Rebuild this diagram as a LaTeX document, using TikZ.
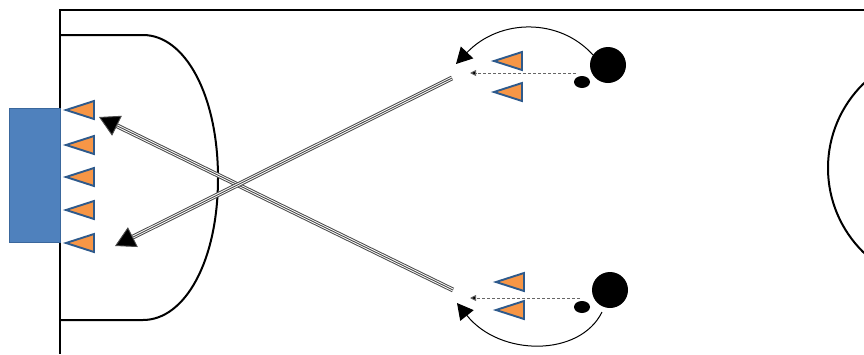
\documentclass[tikz,border=0pt]{standalone}
\usetikzlibrary{arrows.meta,shapes.geometric}
\definecolor{goalblue}{HTML}{4F81BD}
\definecolor{goaledge}{HTML}{3A679C}
\definecolor{coneorange}{HTML}{F79646}
\definecolor{coneedge}{HTML}{2E5A8C}
\definecolor{passgray}{HTML}{4A4A4A}
\begin{document}
\begin{tikzpicture}[x=1pt,y=-1pt,
  fieldline/.style={line width=2pt,black},
  conepic/.pic={\draw[coneedge,fill=coneorange,line width=1.9pt,line join=miter]
      (-14,0) -- (14,-9) -- (14,9) -- cycle;},
  player/.style={circle,fill=black,minimum size=36pt,inner sep=0pt},
  ballnode/.style={ellipse,fill=black,minimum width=16pt,minimum height=12pt,inner sep=0pt},
  passouter/.style={double=white,double distance=2.8pt,line width=1pt,draw=passgray,shorten >=14pt},
  passinner/.style={line width=0.9pt,draw=passgray,-{Triangle[length=20pt,width=22pt,fill=black]}},
  runarrow/.style={line width=1pt,black,-{Triangle[length=16pt,width=17pt]}},
  dribble/.style={line width=0.9pt,gray!80!black,dashed,dash pattern=on 3pt off 2pt,-{Triangle[length=6pt,width=6pt,fill=black]}}
]
\useasboundingbox (0,0) rectangle (864,354);
% field
\draw[fieldline] (864,10) -- (60,10) -- (60,354);
\begin{scope}
  \clip (0,0) rectangle (864,354);
  \draw[fieldline] (946,168) circle (118);
\end{scope}
% penalty area
\draw[fieldline] (60,35) -- (143,35) .. controls (185,35) and (218,95) .. (218,178)
   .. controls (218,261) and (185,320) .. (143,320) -- (60,320);
% goal
\node[draw=goaledge,fill=goalblue,line width=1.2pt,minimum width=51pt,minimum height=134pt,inner sep=0pt,anchor=north west] (goal) at (9,108) {};
% cones at goal line
\foreach \y in {110,145,177,210,243} \pic at (80,\y) {conepic};
% top group cones
\pic at (508,61) {conepic};
\pic at (508,92) {conepic};
% bottom group cones
\pic at (510,282) {conepic};
\pic at (510,310) {conepic};
% players and balls
\node[player] (p1) at (608,65) {};
\node[ballnode] (b1) at (582,82) {};
\node[player] (p2) at (610,290) {};
\node[ballnode] (b2) at (582,307) {};
% coordinates
\coordinate (s1) at (453,290);
\coordinate (t1) at (99,117);
\coordinate (s2) at (452,78);
\coordinate (t2) at (115,246);
\coordinate (d1s) at (576,73);
\coordinate (d1e) at (470,73);
\coordinate (d2s) at (580,298);
\coordinate (d2e) at (470,298);
\coordinate (r1s) at (593,55);
\coordinate (r1e) at (456,64);
\coordinate (r2s) at (602,312);
\coordinate (r2e) at (457,303);
% passes
\draw[passouter] (s1) -- (t1);
\draw[passinner] (s1) -- (t1);
\draw[passouter] (s2) -- (t2);
\draw[passinner] (s2) -- (t2);
% dribbles
\draw[dribble] (d1s) -- (d1e);
\draw[dribble] (d2s) -- (d2e);
% runs
\draw[runarrow] (r1s) .. controls (560,18) and (500,18) .. (r1e);
\draw[runarrow] (r2s) .. controls (580,357) and (500,357) .. (r2e);
\end{tikzpicture}
\end{document}
